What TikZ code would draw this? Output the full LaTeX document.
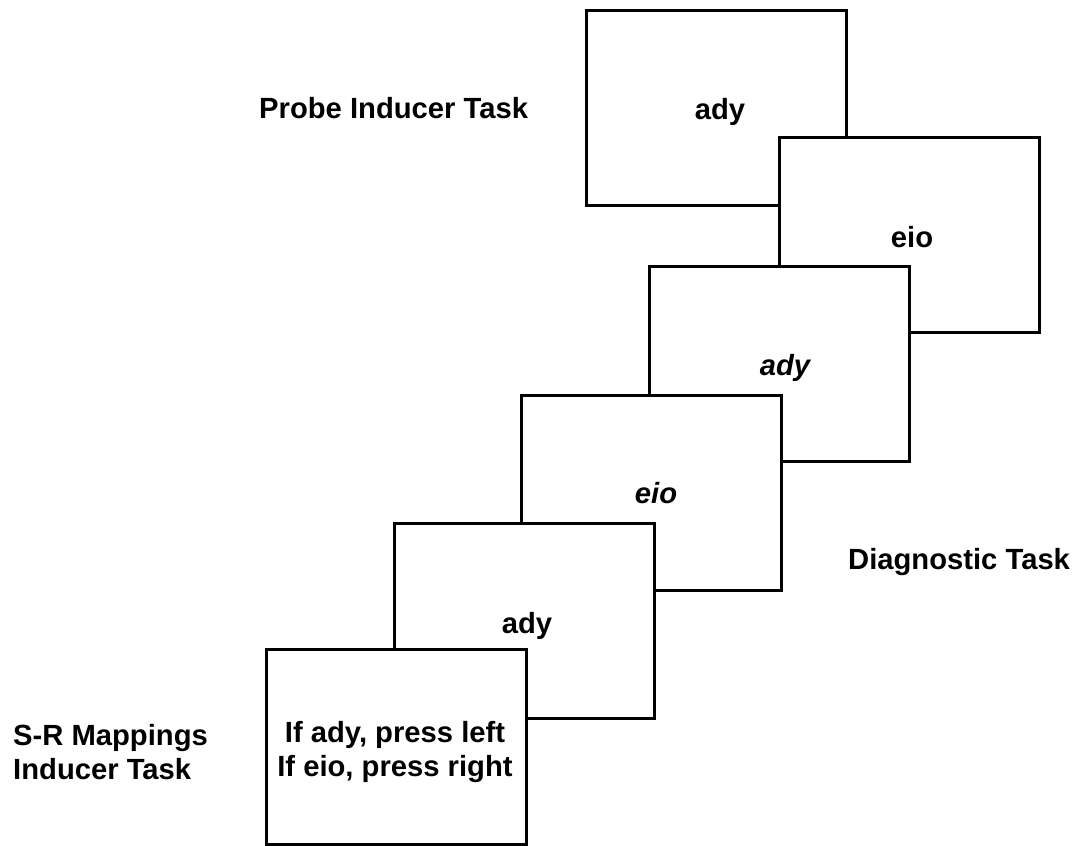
\documentclass[tikz,border=0pt]{standalone}
\usepackage{fontspec}
\setmainfont{Liberation Sans}
\begin{document}
\begin{tikzpicture}[x=1pt,y=-1pt,
  screen/.style={draw, fill=white, line width=3pt, minimum width=260pt, minimum height=195pt, inner sep=0pt},
  txt/.style={inner sep=0pt, font=\bfseries\fontsize{29.2}{34.5}\selectfont}]
\useasboundingbox (0,0) rectangle (1080,846);
\fill[white] (0,0) rectangle (1080,846);
\node[screen] (b1) at (716,107.5) {};
\node[screen] (b2) at (909,234.5) {};
\node[screen] (b3) at (779,363.5) {};
\node[screen] (b4) at (651,492.5) {};
\node[screen] (b5) at (524,620.5) {};
\node[screen] (b6) at (396,747) {};
\node[txt, anchor=base] (t1) at (720,119) {ady};
\node[txt, anchor=base] (t2) at (912,247) {eio};
\node[txt, anchor=base] (t3) at (785,375) {\itshape ady};
\node[txt, anchor=base] (t4) at (656,503) {\itshape eio};
\node[txt, anchor=base] (t5) at (527,633) {ady};
\node[txt, anchor=north, align=center] (t6) at (395,721) {If ady, press left\\If eio, press right};
\node[txt, anchor=base west] (lp) at (259,118) {Probe Inducer Task};
\node[txt, anchor=base west] (ld) at (848,569) {Diagnostic Task};
\node[txt, anchor=north west, align=left] (ls) at (13,724) {S-R Mappings\\Inducer Task};
\end{tikzpicture}
\end{document}
